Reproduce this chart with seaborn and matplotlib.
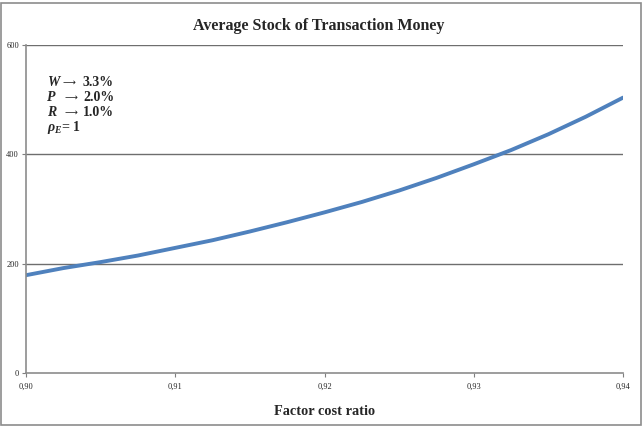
import numpy as np
import pandas as pd
import matplotlib
matplotlib.use("Agg")
import matplotlib.pyplot as plt
import matplotlib.transforms as mtransforms
import seaborn as sns
from matplotlib.ticker import FuncFormatter
from matplotlib.patches import Rectangle

# values
cost_ratio = [0.9000, 0.9025, 0.9050, 0.9075, 0.9100, 0.9125, 0.9150, 0.9175, 0.9200,
              0.9225, 0.9250, 0.9275, 0.9300, 0.9325, 0.9350, 0.9375, 0.9400]
money_stock = [179, 192, 203, 215, 229, 243, 259, 276, 294,
               313, 334, 357, 382, 408, 437, 469, 504]
x_ticks = [0.90, 0.91, 0.92, 0.93, 0.94]
y_ticks = [0, 200, 400, 600]
note_letters = ["W", "P", "R"]
note_values = ["3.3%", "2.0%", "1.0%"]

df = pd.DataFrame({"ratio": cost_ratio, "money": money_stock})

sns.set_style("white")
plt.rcParams['font.family'] = ['Liberation Serif', 'DejaVu Serif']
plt.rcParams['mathtext.fontset'] = 'custom'
plt.rcParams['mathtext.it'] = 'Liberation Serif:italic:bold'
plt.rcParams['mathtext.rm'] = 'Liberation Serif:bold'

fig = plt.figure(figsize=(6.43, 4.26), dpi=100)
ax = fig.add_axes([0.0404, 0.1244, 0.9286, 0.7696])

sns.lineplot(data=df, x="ratio", y="money", color="#4F81BD", linewidth=2.8, ax=ax)

ax.set_xlim(0.90, 0.94)
ax.set_ylim(0, 600)
ax.set_xticks(x_ticks)
ax.set_yticks(y_ticks)
ax.xaxis.set_major_formatter(FuncFormatter(lambda v, p: f"{v:.2f}".replace('.', ',')))
ax.tick_params(axis='both', labelsize=6, length=3, width=0.8, color='#7f7f7f', direction='out',
               bottom=True, left=True)
ax.tick_params(axis='x', pad=4)
ax.tick_params(axis='y', pad=2)

for y in y_ticks[1:]:
    ax.axhline(y, color='#6e6e6e', linewidth=1.0, zorder=0)
for s in ['top', 'right']:
    ax.spines[s].set_visible(False)
for s in ['left', 'bottom']:
    ax.spines[s].set_color('#8c8c8c')
    ax.spines[s].set_linewidth(1.2)

ax.set_xlabel("Factor cost ratio", fontsize=10.3, fontweight='bold', labelpad=10)
ax.set_ylabel("")
fig.text(0.495, 0.938, "Average Stock of Transaction Money", ha='center', va='center',
         fontsize=11.5, fontweight='bold')

# parameter box: letter, arrow, value drawn as separate pieces
x0, y0, dy = 0.035, 0.875, 0.0457
arrow_dx = [16, 18, 18]
value_dx = [36, 36, 36]
for i, (letter, val) in enumerate(zip(note_letters, note_values)):
    y = y0 - i * dy
    ax.text(x0, y, letter, transform=ax.transAxes, fontsize=10, fontweight='bold',
            fontstyle='italic', va='baseline', ha='left')
    tr = mtransforms.offset_copy(ax.transAxes, fig=fig, x=arrow_dx[i], y=3.5, units='dots')
    ax.text(x0, y, "\u27f6", transform=tr, fontsize=6.5, family='DejaVu Sans',
            va='center', ha='left')
    tr = mtransforms.offset_copy(ax.transAxes, fig=fig, x=value_dx[i], y=0, units='dots')
    ax.text(x0, y, val, transform=tr, fontsize=10, fontweight='bold', va='baseline', ha='left')
ax.text(x0, y0 - 3 * dy, r"$\rho_E$= 1", transform=ax.transAxes,
        fontsize=10, fontweight='bold', va='baseline', ha='left')

fig.patches.append(Rectangle((0.002, 0.003), 0.995, 0.99, transform=fig.transFigure,
                             fill=False, edgecolor='#8c8c8c', linewidth=1.2))

fig.savefig("out.png", dpi=100)
